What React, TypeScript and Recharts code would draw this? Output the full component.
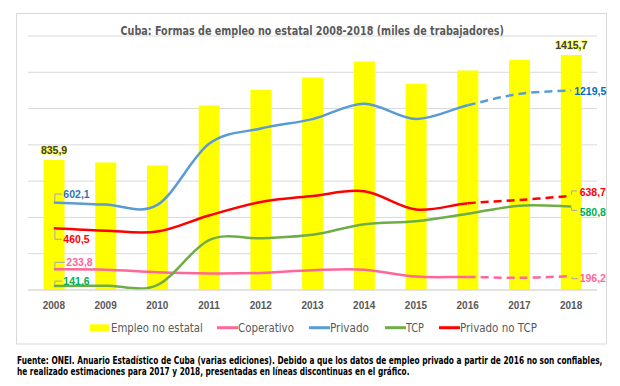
// @ts-nocheck
import React, { useLayoutEffect, useRef, useState } from 'react';
import { ComposedChart, Bar, Line, XAxis, YAxis, CartesianGrid, LabelList } from 'recharts';

const years = ['2008', '2009', '2010', '2011', '2012', '2013', '2014', '2015', '2016', '2017', '2018'];
const empleoNoEstatal = [835.9, 823.0, 806.6, 1137.0, 1224.0, 1291.0, 1379.0, 1257.0, 1330.0, 1388.0, 1415.7];
const coperativo = [233.8, 232.0, 217.6, 211.0, 214.0, 229.0, 232.0, 194.0, 192.0, 187.0, 196.2];
const privado = [602.1, 591.0, 589.0, 926.0, 1010.0, 1062.0, 1147.0, 1063.0, 1138.0, 1201.0, 1219.5];
const tcp = [141.6, 144.0, 147.0, 395.0, 405.0, 424.0, 483.0, 499.0, 540.0, 585.0, 580.8];
const privadoNoTcp = [460.5, 447.0, 442.0, 531.0, 605.0, 638.0, 664.0, 564.0, 598.0, 616.0, 638.7];

// gridline values (axis starts above zero in the original)
const yTicks = [120, 320, 520, 720, 920, 1120, 1320];

// from 2016 on the private series are estimates -> dashed
const ESTIMATE_FROM = 8;
const LAST = years.length - 1;

const data = years.map((year, i) => ({
  year,
  empleo: empleoNoEstatal[i],
  coop: coperativo[i],
  privado: privado[i],
  tcp: tcp[i],
  noTcp: privadoNoTcp[i],
}));

const C = {
  bar: '#ffff00',
  coop: '#ff6699',
  privado: '#5b9bd5',
  tcp: '#70ad47',
  noTcp: '#ff0000',
};

const NUM_FONT = "'Liberation Sans', Arial, sans-serif";
const NARROW = "'Liberation Sans Narrow', 'DejaVu Sans Condensed', 'Liberation Sans', sans-serif";

// Excel style smoothing (Catmull-Rom), drawing only segments from..to
// but using every point for the tangents
const excelCurve = (from, to) => (context) => {
  let pts = [];
  return {
    areaStart() {},
    areaEnd() {},
    lineStart() {
      pts = [];
    },
    point(x, y) {
      pts.push([+x, +y]);
    },
    lineEnd() {
      const n = pts.length;
      if (!n) return;
      const last = Math.min(to, n - 1);
      context.moveTo(pts[from][0], pts[from][1]);
      for (let i = from; i < last; i++) {
        const p0 = pts[Math.max(i - 1, 0)];
        const p1 = pts[i];
        const p2 = pts[i + 1];
        const p3 = pts[Math.min(i + 2, n - 1)];
        context.bezierCurveTo(
          p1[0] + (p2[0] - p0[0]) / 6,
          p1[1] + (p2[1] - p0[1]) / 6,
          p2[0] - (p3[0] - p1[0]) / 6,
          p2[1] - (p3[1] - p1[1]) / 6,
          p2[0],
          p2[1]
        );
      }
    },
  };
};

const fmt = (v) => Number(v).toFixed(1).replace('.', ',');

// label for one point of a line, with a small gray leader
const pointLabel = (idx, color, dx, dy, anchor, leader) => (p) => {
  if (p.index !== idx || p.x == null || p.y == null) return null;
  const x = p.x;
  const y = p.y;
  return (
    <g>
      {leader && (
        <path d={leader(x, y)} fill="none" stroke="#a6a6a6" strokeWidth={1} />
      )}
      <text
        x={x + dx}
        y={y + dy}
        dy="0.36em"
        textAnchor={anchor}
        fill={color}
        fontFamily={NUM_FONT}
        fontWeight="bold"
        fontSize={10.5}
      >
        {fmt(p.value)}
      </text>
    </g>
  );
};

const barLabel = (p) => {
  if (p.index !== 0 && p.index !== LAST) return null;
  const cx = p.x + p.width / 2;
  const cy = p.y - 10;
  return (
    <text
      x={cx}
      y={cy}
      dy="0.36em"
      textAnchor="middle"
      fill="#404040"
      stroke={C.bar}
      strokeWidth={1.6}
      strokeOpacity={0.7}
      paintOrder="stroke"
      fontFamily={NUM_FONT}
      fontWeight="bold"
      fontSize={10.5}
    >
      {fmt(p.value)}
    </text>
  );
};

// text squeezed or stretched horizontally to a given width
function FitText({ x, y, width, anchor = 'start', children, ...rest }) {
  const ref = useRef(null);
  const [sx, setSx] = useState(1);
  useLayoutEffect(() => {
    const w = ref.current ? ref.current.getComputedTextLength() : 0;
    if (w > 0) setSx(width / w);
  }, [width, children]);
  const ox = anchor === 'middle' ? x - width / 2 : x;
  return (
    <text ref={ref} x={0} y={0} transform={`translate(${ox},${y}) scale(${sx},1)`} {...rest}>
      {children}
    </text>
  );
}

const legendItems = [
  { label: 'Empleo no estatal', color: C.bar, box: true },
  { label: 'Coperativo', color: C.coop },
  { label: 'Privado', color: C.privado },
  { label: 'TCP', color: C.tcp },
  { label: 'Privado no TCP', color: C.noTcp },
];
// x start and text width of each legend entry
const legendLayout = [
  [90, 92],
  [217, 56],
  [309, 39],
  [385, 18],
  [439, 77],
];

function Frame() {
  return (
    <svg width={620} height={386} style={{ position: 'absolute', left: 0, top: 0 }}>
      <rect x={0} y={0} width={620} height={386} fill="#ffffff" />
      <rect x={16.5} y={13.5} width={590} height={330.5} fill="none" stroke="#d9d9d9" strokeWidth={1} />
      <FitText
        x={312.5}
        y={34.5}
        width={384}
        anchor="middle"
        fill="#595959"
        fontFamily={NARROW}
        fontWeight="bold"
        fontSize={13}
      >
        Cuba: Formas de empleo no estatal 2008-2018 (miles de trabajadores)
      </FitText>
      {legendItems.map((it, i) => {
        const [lx, tw] = legendLayout[i];
        return (
          <g key={it.label}>
            {it.box ? (
              <rect x={lx} y={324.3} width={19} height={7} fill={it.color} />
            ) : (
              <line x1={lx} x2={lx + 21} y1={327.7} y2={327.7} stroke={it.color} strokeWidth={3} />
            )}
            <FitText x={lx + 21} y={331.8} width={tw} fill="#595959" fontFamily={NARROW} fontSize={12}>
              {it.label}
            </FitText>
          </g>
        );
      })}
      <FitText x={17} y={363.6} width={586} fill="#000000" fontFamily={NARROW} fontWeight="bold" fontSize={10.5}>
        Fuente: ONEI. Anuario Estadístico de Cuba (varias ediciones). Debido a que los datos de empleo privado a partir de 2016 no son confiables,
      </FitText>
      <FitText x={17} y={375.3} width={393} fill="#000000" fontFamily={NARROW} fontWeight="bold" fontSize={10.5}>
        he realizado estimaciones para 2017 y 2018, presentadas en líneas discontinuas en el gráfico.
      </FitText>
    </svg>
  );
}

const lineProps = {
  dot: false,
  activeDot: false,
  isAnimationActive: false,
  strokeWidth: 2.5,
  strokeLinecap: 'butt',
};

export default function App() {
  return (
    <div style={{ position: 'absolute', left: 0, top: 0, width: 620, height: 386, background: '#fff' }}>
      <Frame />
      <div style={{ position: 'absolute', left: 0, top: 0 }}>
        <ComposedChart
          width={620}
          height={386}
          data={data}
          margin={{ top: 36, right: 23, bottom: 76, left: 28 }}
          barCategoryGap="30%"
        >
          <CartesianGrid vertical={false} stroke="#d9d9d9" strokeWidth={1} />
          <XAxis
            dataKey="year"
            interval={0}
            height={20}
            tickLine={false}
            tickMargin={6}
            axisLine={{ stroke: '#d9d9d9' }}
            tick={{ fill: '#595959', fontSize: 10, fontWeight: 'bold', fontFamily: NUM_FONT }}
          />
          <YAxis hide domain={[120, 1520]} ticks={yTicks} allowDataOverflow />
          <Bar dataKey="empleo" fill={C.bar} isAnimationActive={false}>
            <LabelList dataKey="empleo" content={barLabel} />
          </Bar>

          {/* Coperativo */}
          <Line {...lineProps} dataKey="coop" stroke={C.coop} type={excelCurve(0, ESTIMATE_FROM)}>
            <LabelList
              dataKey="coop"
              content={pointLabel(0, C.coop, 12.5, -7, 'start', (x, y) => `M${x + 1},${y} V${y - 7} H${x + 11}`)}
            />
          </Line>
          <Line {...lineProps} dataKey="coop" stroke={C.coop} strokeDasharray="8 5" type={excelCurve(ESTIMATE_FROM, LAST)}>
            <LabelList
              dataKey="coop"
              content={pointLabel(LAST, C.coop, 8.5, 2.5, 'start', (x, y) => `M${x + 1},${y + 0.5} V${y + 2.5} H${x + 7}`)}
            />
          </Line>

          {/* Privado */}
          <Line {...lineProps} dataKey="privado" stroke={C.privado} type={excelCurve(0, ESTIMATE_FROM)}>
            <LabelList
              dataKey="privado"
              content={pointLabel(0, '#2e75b6', 9.5, -8.5, 'start', (x, y) => `M${x + 1},${y - 1} V${y - 8.5} H${x + 8}`)}
            />
          </Line>
          <Line {...lineProps} dataKey="privado" stroke={C.privado} strokeDasharray="8 5" type={excelCurve(ESTIMATE_FROM, LAST)}>
            <LabelList dataKey="privado" content={pointLabel(LAST, '#0070c0', 3, 1, 'start', null)} />
          </Line>

          {/* TCP */}
          <Line {...lineProps} dataKey="tcp" stroke={C.tcp} type={excelCurve(0, LAST)}>
            <LabelList
              dataKey="tcp"
              content={pointLabel(0, '#00b050', 9.5, -5, 'start', (x, y) => `M${x + 1},${y - 1} V${y - 5} H${x + 8}`)}
            />
            <LabelList
              dataKey="tcp"
              content={pointLabel(LAST, '#00b050', 8.5, 5.6, 'start', (x, y) => `M${x + 0.5},${y + 1} V${y + 4} H${x + 6}`)}
            />
          </Line>

          {/* Privado no TCP */}
          <Line {...lineProps} dataKey="noTcp" stroke={C.noTcp} type={excelCurve(0, ESTIMATE_FROM)}>
            <LabelList
              dataKey="noTcp"
              content={pointLabel(0, C.noTcp, 9.5, 11, 'start', (x, y) => `M${x + 1},${y + 1} V${y + 11} H${x + 8}`)}
            />
          </Line>
          <Line {...lineProps} dataKey="noTcp" stroke={C.noTcp} strokeDasharray="8 5" type={excelCurve(ESTIMATE_FROM, LAST)}>
            <LabelList
              dataKey="noTcp"
              content={pointLabel(LAST, C.noTcp, 8.5, -4, 'start', (x, y) => `M${x + 0.5},${y - 1} V${y - 5} H${x + 6}`)}
            />
          </Line>
        </ComposedChart>
      </div>
    </div>
  );
}
